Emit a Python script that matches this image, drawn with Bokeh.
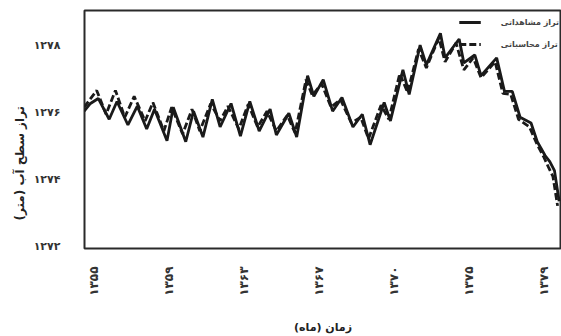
import math
from bokeh.plotting import figure
from bokeh.models import FixedTicker, Legend, LegendItem, Range1d, Title
from bokeh.embed import file_html
from bokeh.resources import INLINE

# month index (0 = start of 1355)
obs_month = [-6, -2, 3, 10, 15, 22, 28, 34, 39, 47, 51, 59, 64, 70, 76, 81, 88, 94,
             100, 106, 113, 117, 125, 130, 137, 141, 147, 153, 159, 166, 172, 177,
             186, 190, 198, 202, 209, 213, 222, 225, 234, 237, 244, 248, 258, 263,
             268, 273, 280, 284, 289, 292, 295, 298]
obs_level = [1276.03, 1276.26, 1276.41, 1275.79, 1276.32, 1275.62, 1276.18, 1275.50,
             1276.09, 1275.15, 1276.15, 1275.12, 1276.03, 1275.26, 1276.38, 1275.56,
             1276.26, 1275.29, 1276.32, 1275.44, 1276.09, 1275.32, 1275.97, 1275.26,
             1277.09, 1276.47, 1276.97, 1276.03, 1276.44, 1275.56, 1275.94, 1275.03,
             1276.29, 1275.74, 1277.26, 1276.53, 1278.00, 1277.41, 1278.35, 1277.62,
             1278.18, 1277.47, 1277.71, 1277.09, 1277.62, 1276.62, 1276.62, 1275.85,
             1275.68, 1275.12, 1274.71, 1274.53, 1274.26, 1273.35]

calc_month = [-6, 2, 8, 14, 20, 26, 33, 38, 45, 50, 57, 63, 68, 75, 81, 86, 93, 99,
              105, 111, 117, 124, 129, 136, 140, 146, 152, 158, 165, 171, 176, 184,
              189, 196, 201, 208, 213, 221, 225, 232, 237, 243, 248, 257, 262, 267,
              272, 279, 284, 288, 291, 294, 297]
calc_level = [1276.15, 1276.65, 1275.94, 1276.65, 1275.85, 1276.47, 1275.74, 1276.29,
              1275.44, 1276.15, 1275.35, 1276.09, 1275.44, 1276.26, 1275.74, 1276.18,
              1275.50, 1276.24, 1275.56, 1276.03, 1275.44, 1275.91, 1275.38, 1276.97,
              1276.50, 1276.85, 1276.15, 1276.38, 1275.68, 1275.85, 1275.21, 1276.21,
              1275.79, 1277.15, 1276.59, 1277.88, 1277.32, 1278.21, 1277.50, 1278.06,
              1277.26, 1277.62, 1277.03, 1277.50, 1276.56, 1276.53, 1275.79, 1275.56,
              1275.03, 1274.68, 1274.38, 1274.09, 1273.21]

x_tick_pos = [0, 48, 96, 144, 192, 240, 288]
x_tick_labels = ["۱۳۵۵", "۱۳۵۹", "۱۳۶۳", "۱۳۶۷", "۱۳۷۰", "۱۳۷۵", "۱۳۷۹"]
y_tick_pos = [1272, 1274, 1276, 1278]
y_tick_labels = ["۱۲۷۲", "۱۲۷۴", "۱۲۷۶", "۱۲۷۸"]

FONT = "DejaVu Sans"
INK = "#1a1a1a"

p = figure(width=561, height=336, output_backend="svg", toolbar_location=None,
           x_range=Range1d(-5.8, 299.5), y_range=Range1d(1271.94, 1279.03),
           min_border_left=84, min_border_right=0, min_border_top=10,
           min_border_bottom=86)

r_obs = p.line(obs_month, obs_level, line_color=INK, line_width=2.8)
r_calc = p.line(calc_month, calc_level, line_color=INK, line_width=2.8,
                line_dash="7 3")

p.outline_line_color = "#2a2a2a"
p.outline_line_width = 2
p.xgrid.visible = False
p.ygrid.visible = False

for ax in (p.xaxis[0], p.yaxis[0]):
    ax.axis_line_color = None
    ax.major_tick_line_color = None
    ax.minor_tick_line_color = None
    ax.major_label_text_font = FONT
    ax.major_label_text_font_style = "bold"
    ax.major_label_text_color = "#333333"
    ax.axis_label_text_font = FONT
    ax.axis_label_text_font_style = "bold"
    ax.axis_label_text_font_size = "11px"
    ax.axis_label_text_color = "#222222"

p.xaxis.ticker = FixedTicker(ticks=x_tick_pos)
p.xaxis.major_label_overrides = {t: l for t, l in zip(x_tick_pos, x_tick_labels)}
p.xaxis.major_label_orientation = math.pi / 2
p.xaxis.major_label_text_font_size = "12px"
p.xaxis.major_label_standoff = 12
p.xaxis.axis_label = "زمان (ماه)"
p.xaxis.axis_label_standoff = 22

p.yaxis.ticker = FixedTicker(ticks=y_tick_pos)
p.yaxis.major_label_overrides = {t: l for t, l in zip(y_tick_pos, y_tick_labels)}
p.yaxis.major_label_text_font_size = "11px"
p.yaxis.major_label_standoff = 18

ytitle = Title(text="تراز سطح آب (متر)", align="left", offset=28,
               text_font=FONT, text_font_style="bold", text_font_size="12px",
               text_color="#222222", standoff=8)
p.add_layout(ytitle, "left")

legend = Legend(items=[LegendItem(label="تراز مشاهداتی", renderers=[r_obs]),
                       LegendItem(label="تراز محاسباتی", renderers=[r_calc])],
                location="top_right", border_line_color=None,
                background_fill_alpha=0, label_text_font=FONT,
                label_text_font_style="bold", label_text_font_size="8px",
                glyph_width=22, glyph_height=20, label_standoff=20,
                spacing=2, padding=3, margin=2)
p.add_layout(legend)

open("out.html", "w").write(file_html(p, INLINE))
